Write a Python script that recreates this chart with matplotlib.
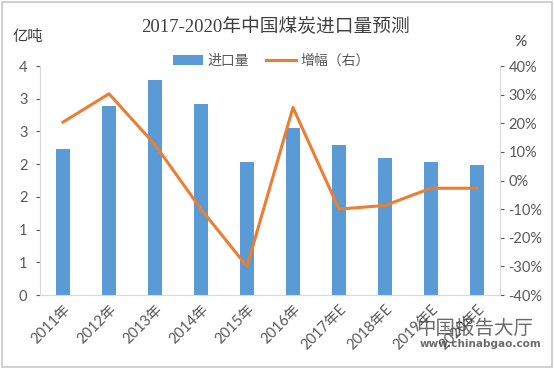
import numpy as np
import matplotlib
matplotlib.use("Agg")
import matplotlib.pyplot as plt
from matplotlib.patches import Rectangle

plt.rcParams['font.family'] = ['Lato', 'Noto Sans CJK SC', 'DejaVu Sans']

years = ["2011年", "2012年", "2013年", "2014年", "2015年", "2016年",
         "2017年E", "2018年E", "2019年E", "2020年E"]
imports = [2.23, 2.89, 3.28, 2.92, 2.04, 2.56, 2.29, 2.09, 2.04, 1.98]
growth = [20.4, 30.3, 12.5, -10.0, -30.0, 25.5, -10.0, -8.7, -2.7, -2.7]
left_ticks = [0, 0.5, 1, 1.5, 2, 2.5, 3, 3.5]
right_ticks = [-40, -30, -20, -10, 0, 10, 20, 30, 40]

bar_color = "#5B9BD5"
line_color = "#ED7D31"
text_gray = "#595959"
axis_gray = "#D9D9D9"

fig = plt.figure(figsize=(5.54, 3.69), dpi=100)
fig.patch.set_facecolor("white")
fig.patches.append(Rectangle((0.004, 0.005), 0.992, 0.99, transform=fig.transFigure,
                             fill=False, edgecolor="#C8C8C8", linewidth=1.2))

ax = fig.add_axes([0.0722, 0.2005, 0.8303, 0.6206])
x = np.arange(len(years))
bars = ax.bar(x, imports, width=0.3, color=bar_color, label="进口量", zorder=2)
ax.set_xlim(-0.5, len(years) - 0.5)
ax.set_ylim(0, 3.5)
ax.set_yticks(left_ticks)
ax.set_yticklabels([str(int(np.floor(v + 0.5))) for v in left_ticks])
ax.set_xticks(x)
ax.set_xticklabels(years, rotation=45, ha="right", rotation_mode="anchor")

ax2 = ax.twinx()
line, = ax2.plot(x, growth, color=line_color, linewidth=2.2, label="增幅（右）", zorder=3)
ax2.set_ylim(-40, 40)
ax2.set_yticks(right_ticks)
ax2.set_yticklabels([f"{v}%" for v in right_ticks])

for a in (ax, ax2):
    a.spines["top"].set_visible(False)
    a.tick_params(colors=text_gray, labelsize=10.5, length=3, width=0.8)
    for s in ("left", "right", "bottom"):
        a.spines[s].set_color(axis_gray)
ax.spines["right"].set_visible(False)
ax2.spines["left"].set_visible(False)
ax2.spines["bottom"].set_visible(False)
ax.tick_params(axis="x", length=0, pad=5)
ax.tick_params(axis="y", pad=6)
ax2.tick_params(axis="y", pad=3)

fig.text(0.497, 0.927, "2017-2020年中国煤炭进口量预测",
         family=['Liberation Serif', 'Noto Sans CJK SC'], fontsize=13.5,
         color="#404040", ha="center", va="center")
fig.text(0.05, 0.902, "亿吨", fontsize=11, color="#404040", ha="center", va="center",
         family=['Noto Sans CJK SC'])
fig.text(0.94, 0.886, "%", fontsize=11, color="#404040", ha="center", va="center")

fig.legend(handles=[bars, line], labels=["进口量", "增幅（右）"], loc="center",
           bbox_to_anchor=(0.49, 0.838), ncol=2, frameon=False, fontsize=10,
           labelcolor=text_gray, handlelength=2.2, columnspacing=1.2, handletextpad=0.3)

# watermark
fig.text(0.752, 0.111, "中国报告大厅", fontsize=14, color="#3a3a3a", alpha=0.75,
         ha="left", va="center", family=['Noto Sans CJK SC'], zorder=5)
fig.text(0.758, 0.068, "www.chinabgao.com", fontsize=7.5, color="#3a3a3a", alpha=0.75,
         ha="left", va="center", family=['DejaVu Sans'], fontweight="bold", zorder=5)

fig.savefig("out.png", dpi=100)
